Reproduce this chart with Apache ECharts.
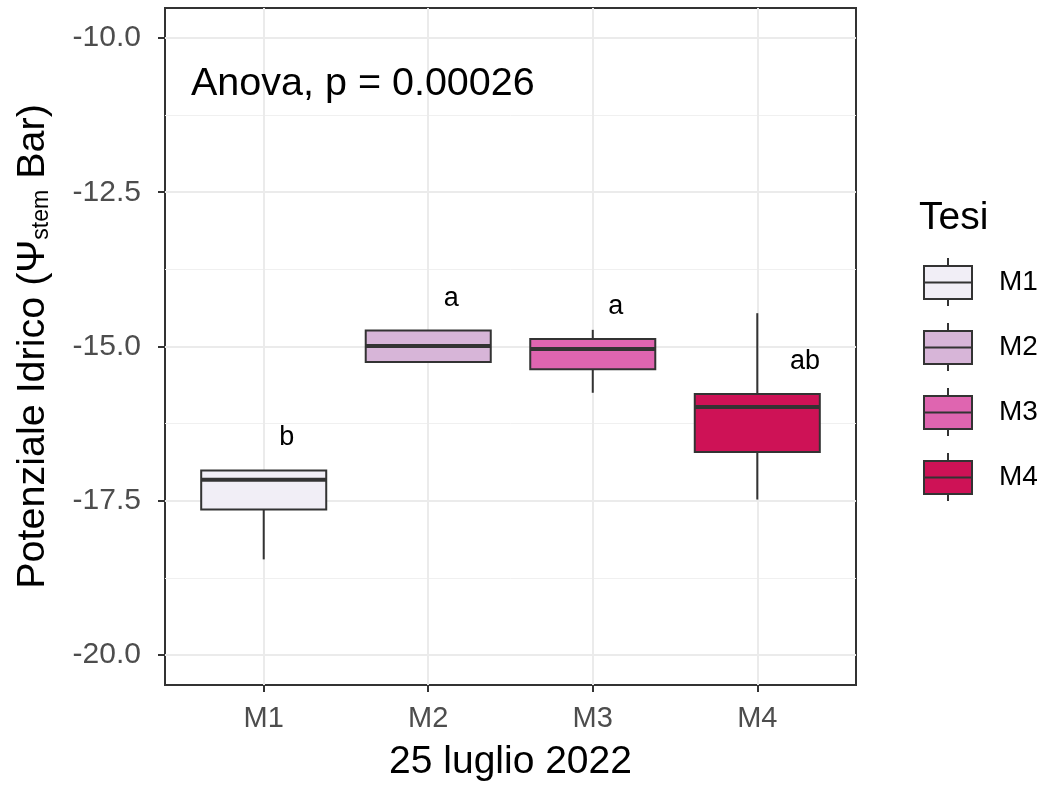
<!DOCTYPE html>
<html>
<head>
<meta charset="utf-8">
<script src="https://cdn.jsdelivr.net/npm/echarts@6/dist/echarts.min.js"></script>
<style>
html,body{margin:0;padding:0;background:#fff;}
#chart{width:1046px;height:792px;}
</style>
</head>
<body>
<div id="chart"></div>
<script>
// ---- data ----
const categories = ['M1', 'M2', 'M3', 'M4'];
const minV    = [-18.45, -15.25, -15.75, -17.48];
const q1V     = [-17.64, -15.25, -15.37, -16.71];
const medianV = [-17.16, -14.99, -15.04, -15.98];
const q3V     = [-17.01, -14.74, -14.88, -15.77];
const maxV    = [-17.01, -14.74, -14.73, -14.46];
const letters = ['b', 'a', 'a', 'ab'];
const letterX = [1.14, 2.14, 3.14, 4.29];
const letterY = [-16.47, -14.22, -14.35, -15.24];
const yTicks  = [-20, -17.5, -15, -12.5, -10];
const yMinor  = [-18.75, -16.25, -13.75, -11.25];
const fills   = ['#f1eef6', '#d7b5d8', '#df65b0', '#ce1256'];
const annotation = 'Anova, p = 0.00026';

// ---- chart ----
const FONT = 'Liberation Sans, Arial, sans-serif';
const EDGE = '#333333';
const BOX_W = 0.76;

function makeRender(fill) {
  return function (params, api) {
    const x = api.value(0);
    const pMin = api.coord([x, api.value(1)]);
    const pQ1 = api.coord([x, api.value(2)]);
    const pMd = api.coord([x, api.value(3)]);
    const pQ3 = api.coord([x, api.value(4)]);
    const pMax = api.coord([x, api.value(5)]);
    const w = api.size([BOX_W, 0])[0];
    const left = pQ1[0] - w / 2;
    return {
      type: 'group',
      children: [
        { type: 'line', shape: { x1: pMax[0], y1: pMax[1], x2: pQ3[0], y2: pQ3[1] }, style: { stroke: EDGE, lineWidth: 2 } },
        { type: 'line', shape: { x1: pMin[0], y1: pMin[1], x2: pQ1[0], y2: pQ1[1] }, style: { stroke: EDGE, lineWidth: 2 } },
        { type: 'rect', shape: { x: left, y: pQ3[1], width: w, height: pQ1[1] - pQ3[1] }, style: { fill: fill, stroke: EDGE, lineWidth: 2 } },
        { type: 'line', shape: { x1: left, y1: pMd[1], x2: left + w, y2: pMd[1] }, style: { stroke: EDGE, lineWidth: 4 } }
      ]
    };
  };
}

const boxSeries = categories.map((c, i) => ({
  name: c,
  type: 'custom',
  z: 10,
  renderItem: makeRender(fills[i]),
  itemStyle: { color: fills[i], borderColor: EDGE, borderWidth: 2 },
  encode: { x: 0, y: [1, 2, 3, 4, 5] },
  data: [[i + 1, minV[i], q1V[i], medianV[i], q3V[i], maxV[i]]]
}));

const gridMajor = {
  type: 'line', name: '_gridMajor', data: [], z: 1, silent: true,
  markLine: {
    z: 1, silent: true, symbol: 'none', animation: false,
    label: { show: false },
    lineStyle: { color: '#ebebeb', width: 2, type: 'solid' },
    emphasis: { disabled: true },
    data: yTicks.map(v => ({ yAxis: v })).concat(categories.map((c, i) => ({ xAxis: i + 1 })))
  }
};
const gridMinor = {
  type: 'line', name: '_gridMinor', data: [], z: 1, silent: true,
  markLine: {
    z: 1, silent: true, symbol: 'none', animation: false,
    label: { show: false },
    lineStyle: { color: '#f0f0f0', width: 1, type: 'solid' },
    emphasis: { disabled: true },
    data: yMinor.map(v => ({ yAxis: v }))
  }
};

const letterSeries = {
  type: 'custom', name: '_letters', z: 12, silent: true,
  data: letters.map((l, i) => [letterX[i], letterY[i], l]),
  encode: { x: 0, y: 1 },
  renderItem: function (params, api) {
    const p = api.coord([api.value(0), api.value(1)]);
    return {
      type: 'text', x: p[0], y: p[1],
      style: { text: letters[params.dataIndex], fill: '#000', font: '27px ' + FONT, align: 'center', verticalAlign: 'middle' }
    };
  }
};

const chart = echarts.init(document.getElementById('chart'), null, { renderer: 'canvas' });
chart.setOption({
  animation: false,
  backgroundColor: '#ffffff',
  grid: { left: 165, right: 190, top: 8, bottom: 107, show: true, borderColor: EDGE, borderWidth: 2, backgroundColor: '#ffffff' },
  title: {
    text: 'Tesi', left: 914, top: 194,
    textStyle: { fontFamily: FONT, fontSize: 39, fontWeight: 'normal', color: '#000' }
  },
  legend: {
    data: categories, orient: 'vertical', left: 923, top: 257,
    itemWidth: 48, itemHeight: 48, itemGap: 15, padding: 0,
    icon: 'path://M0,8 L48,8 L48,41 L0,41 Z M0,24.5 L48,24.5 M24,0 L24,8 M24,41 L24,48',
    itemStyle: { borderColor: EDGE, borderWidth: 2 },
    textStyle: { fontFamily: FONT, fontSize: 28, color: '#000', padding: [0, 0, 0, 22] },
    selectedMode: false
  },
  graphic: [{
    type: 'text', left: 191, top: 64, z: 10,
    style: { text: annotation, font: '39.5px ' + FONT, fill: '#000' }
  }],
  xAxis: {
    type: 'value', min: 0.4, max: 4.6,
    name: '25 luglio 2022', nameLocation: 'middle', nameGap: 58,
    nameTextStyle: { fontFamily: FONT, fontSize: 39, color: '#000' },
    axisLine: { show: false },
    axisTick: { show: true, length: 7, customValues: [1, 2, 3, 4], lineStyle: { color: EDGE, width: 2 } },
    axisLabel: {
      customValues: [1, 2, 3, 4], margin: 19,
      formatter: v => categories[Math.round(v) - 1],
      fontFamily: FONT, fontSize: 29, color: '#4d4d4d'
    },
    splitLine: { show: false }
  },
  yAxis: {
    type: 'value', min: -20.486, max: -9.514,
    name: '{m|Potenziale Idrico (Ψ}{s|stem}{m| Bar)}',
    nameLocation: 'middle', nameGap: 112,
    nameTextStyle: {
      rich: {
        m: { fontFamily: FONT, fontSize: 39.5, color: '#000' },
        s: { fontFamily: FONT, fontSize: 23, color: '#000', verticalAlign: 'bottom' }
      }
    },
    axisLine: { show: false },
    axisTick: { show: true, length: 7, customValues: yTicks, lineStyle: { color: EDGE, width: 2 } },
    axisLabel: {
      customValues: yTicks, margin: 24,
      formatter: v => Number(v).toFixed(1),
      fontFamily: FONT, fontSize: 30, color: '#4d4d4d'
    },
    splitLine: { show: false }
  },
  series: [gridMinor, gridMajor].concat(boxSeries).concat([letterSeries])
});
</script>
</body>
</html>
